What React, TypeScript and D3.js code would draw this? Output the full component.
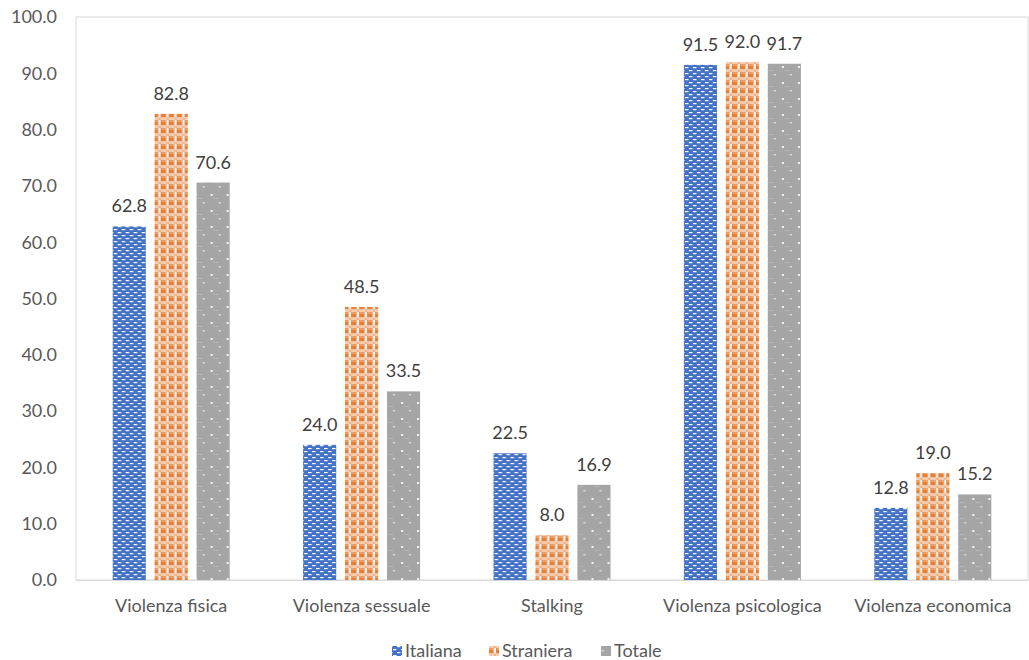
import React from "react";
import * as d3 from "d3";

const categories = ["Violenza fisica", "Violenza sessuale", "Stalking", "Violenza psicologica", "Violenza economica"];
const seriesNames = ["Italiana", "Straniera", "Totale"];
const italiana = [62.8, 24.0, 22.5, 91.5, 12.8];
const straniera = [82.8, 48.5, 8.0, 92.0, 19.0];
const totale = [70.6, 33.5, 16.9, 91.7, 15.2];
const yTicks = [0, 10, 20, 30, 40, 50, 60, 70, 80, 90, 100];

const W = 1029;
const H = 660;
const left = 76;
const right = 1028;
const top = 17;
const bottom = 580;
const font = "Lato, 'Open Sans', sans-serif";
const fs = 18;

export default function App() {
  const values = [italiana, straniera, totale];
  const x0 = d3.scaleBand<string>().domain(categories).range([left, right]).paddingInner(0).paddingOuter(0);
  const x1 = d3.scaleBand<string>().domain(seriesNames).range([0, 117]).paddingInner(0.21).paddingOuter(0);
  const y = d3.scaleLinear().domain([0, 100]).range([bottom, top]);
  const fills = ["url(#pBlue)", "url(#pOrange)", "url(#pGray)"];
  const groupOffset = (x0.bandwidth() - 117) / 2;

  const legendItems = [
    { name: "Italiana", x: 392 },
    { name: "Straniera", x: 489 },
    { name: "Totale", x: 601 },
  ];

  return (
    <svg width={W} height={H} style={{ position: "absolute", left: 0, top: 0, background: "#fff" }}>
      <defs>
        <pattern id="pBlue" patternUnits="userSpaceOnUse" width="8" height="6">
          <rect width="8" height="6" fill="#4472C4" />
          <rect x="1" y="1" width="3.5" height="1.2" fill="#fff" />
          <rect x="5" y="4" width="3.5" height="1.2" fill="#fff" />
          <rect x="-3" y="4" width="3.5" height="1.2" fill="#fff" />
        </pattern>
        <pattern id="pOrange" patternUnits="userSpaceOnUse" width="8" height="8">
          <rect width="8" height="8" fill="#DDF2F6" />
          <rect x="0" y="0" width="5.5" height="5.5" fill="#ED7D31" />
          <rect x="5.5" y="5.5" width="2.5" height="2.5" fill="#F4B183" />
          <rect x="0" y="5.5" width="5.5" height="2.5" fill="#F8CBAD" />
          <rect x="0.5" y="0.5" width="4.5" height="1.2" fill="#F4B183" />
        </pattern>
        <pattern id="pGray" patternUnits="userSpaceOnUse" width="16" height="16">
          <rect width="16" height="16" fill="#A5A5A5" />
          <rect x="2" y="2" width="2" height="2" fill="#F2F2F2" />
          <rect x="10" y="10" width="2" height="1.5" fill="#D9D9D9" />
          <rect x="5" y="6" width="5" height="1" fill="#B5B5B5" />
        </pattern>
      </defs>

      <rect x={left} y={top} width={right - left} height={bottom - top} fill="none" stroke="#D9D9D9" strokeWidth={1} />

      {yTicks.map((t) => (
        <text key={t} x={57} y={y(t)} dy="0.35em" textAnchor="end" fontFamily={font} fontSize={fs} fill="#595959">
          {t.toFixed(1)}
        </text>
      ))}

      {categories.map((c, ci) => (
        <g key={c} transform={`translate(${(x0(c) as number) + groupOffset},0)`}>
          {seriesNames.map((s, si) => {
            const v = values[si][ci];
            const bx = x1(s) as number;
            return (
              <g key={s}>
                <rect x={bx} y={y(v)} width={x1.bandwidth()} height={bottom - y(v)} fill={fills[si]} />
                <text
                  x={bx + x1.bandwidth() / 2}
                  y={y(v) - 14}
                  textAnchor="middle"
                  fontFamily={font}
                  fontSize={fs}
                  fill="#404040"
                >
                  {v.toFixed(1)}
                </text>
              </g>
            );
          })}
        </g>
      ))}

      <line x1={left} x2={right} y1={bottom + 0.5} y2={bottom + 0.5} stroke="#D9D9D9" />

      {categories.map((c) => (
        <text
          key={c}
          x={(x0(c) as number) + x0.bandwidth() / 2}
          y={612}
          textAnchor="middle"
          fontFamily={font}
          fontSize={fs}
          fill="#595959"
        >
          {c}
        </text>
      ))}

      {legendItems.map((l, i) => (
        <g key={l.name}>
          <rect x={l.x} y={646} width={10} height={10} fill={fills[i]} />
          <text x={l.x + 13} y={651} dy="0.35em" fontFamily={font} fontSize={fs} fill="#595959">
            {l.name}
          </text>
        </g>
      ))}
    </svg>
  );
}
